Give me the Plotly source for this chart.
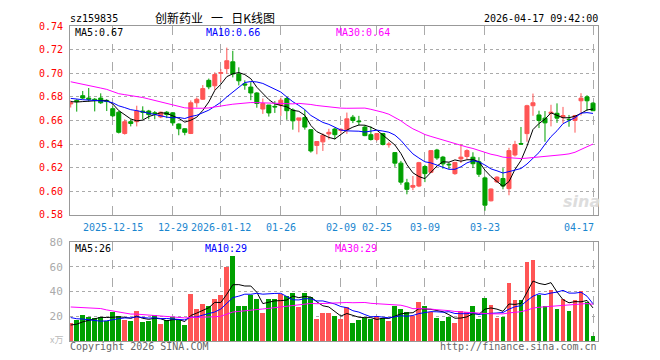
import plotly.graph_objects as go
import pandas as pd

# ---------------- data ----------------
tick_idx = [7, 17, 25, 35, 45, 51, 59, 69, 87]
tick_labels = ["2025-12-15", "12-29", "2026-01-12", "01-26", "02-09", "02-25", "03-09", "03-23", "04-17"]

open_ = [0.674, 0.677, 0.681, 0.679, 0.678, 0.679, 0.677, 0.670, 0.667, 0.649,
         0.659, 0.659, 0.668, 0.668, 0.6665, 0.663, 0.667, 0.6665, 0.657, 0.653,
         0.649, 0.675, 0.678, 0.694, 0.6894, 0.700, 0.7039, 0.7097, 0.6994, 0.691,
         0.6883, 0.6833, 0.6697, 0.6731, 0.672, 0.6731, 0.6786, 0.6689, 0.6603, 0.6625,
         0.6522, 0.6389, 0.6419, 0.6486, 0.6528, 0.6515, 0.6522, 0.6628, 0.6595, 0.6544,
         0.648, 0.6439, 0.6489, 0.6395, 0.6328, 0.6239, 0.6072, 0.6035, 0.6045, 0.621,
         0.6161, 0.635, 0.629, 0.623, 0.615, 0.6275, 0.6295, 0.6289, 0.625, 0.6114,
         0.592, 0.608, 0.6109, 0.6023, 0.6308, 0.6405, 0.6489, 0.6725, 0.6647, 0.662,
         0.666, 0.6661, 0.6628, 0.661, 0.660, 0.6767, 0.680, 0.6747]
high = [0.677, 0.678, 0.685, 0.6875, 0.679, 0.683, 0.678, 0.672, 0.668, 0.661,
        0.661, 0.6725, 0.672, 0.669, 0.668, 0.6675, 0.668, 0.667, 0.6575, 0.6535,
        0.677, 0.6795, 0.690, 0.6955, 0.7008, 0.7036, 0.7217, 0.719, 0.705, 0.694,
        0.6925, 0.684, 0.6786, 0.6731, 0.6764, 0.6794, 0.680, 0.6703, 0.6622, 0.6689,
        0.6528, 0.6422, 0.649, 0.653, 0.654, 0.6535, 0.6667, 0.6647, 0.6639, 0.656,
        0.655, 0.649, 0.6494, 0.642, 0.6333, 0.6258, 0.6106, 0.613, 0.625, 0.6225,
        0.635, 0.636, 0.630, 0.6245, 0.6248, 0.640, 0.6356, 0.6331, 0.6289, 0.6125,
        0.6025, 0.6128, 0.6197, 0.6369, 0.6428, 0.6545, 0.6733, 0.6828, 0.6683, 0.668,
        0.6733, 0.6745, 0.6715, 0.6647, 0.6647, 0.6831, 0.6814, 0.6755]
low = [0.671, 0.6675, 0.678, 0.676, 0.6677, 0.674, 0.668, 0.663, 0.649, 0.648,
       0.655, 0.655, 0.661, 0.661, 0.661, 0.662, 0.662, 0.6555, 0.6475, 0.6475,
       0.6485, 0.671, 0.6775, 0.6865, 0.6856, 0.6925, 0.6994, 0.6965, 0.6897, 0.686,
       0.6772, 0.6708, 0.6656, 0.6633, 0.6664, 0.6639, 0.6606, 0.6522, 0.650, 0.6522,
       0.6328, 0.6314, 0.6342, 0.6439, 0.644, 0.649, 0.6486, 0.6578, 0.6558, 0.6467,
       0.643, 0.6425, 0.6389, 0.637, 0.6208, 0.6056, 0.5975, 0.601, 0.6036, 0.6078,
       0.6155, 0.6267, 0.6192, 0.619, 0.614, 0.624, 0.6272, 0.6197, 0.6122, 0.5836,
       0.5915, 0.6072, 0.6017, 0.5967, 0.6295, 0.6395, 0.642, 0.664, 0.6536, 0.642,
       0.655, 0.658, 0.6575, 0.6547, 0.6497, 0.6642, 0.6683, 0.668]
close = [0.675, 0.676, 0.679, 0.678, 0.677, 0.675, 0.676, 0.664, 0.650, 0.659,
         0.6575, 0.668, 0.667, 0.665, 0.666, 0.667, 0.665, 0.658, 0.653, 0.650,
         0.675, 0.678, 0.687, 0.6885, 0.6989, 0.7005, 0.7106, 0.6994, 0.6936, 0.690,
         0.6833, 0.6744, 0.6744, 0.6664, 0.6715, 0.6772, 0.6683, 0.6597, 0.6622, 0.6544,
         0.6342, 0.6422, 0.6475, 0.650, 0.648, 0.6525, 0.6614, 0.660, 0.659, 0.6472,
         0.6439, 0.6489, 0.6397, 0.640, 0.6239, 0.6078, 0.6017, 0.605, 0.6243, 0.615,
         0.6345, 0.6283, 0.6233, 0.6225, 0.6245, 0.629, 0.6345, 0.6234, 0.6145, 0.5883,
         0.602, 0.612, 0.6045, 0.6345, 0.6397, 0.640, 0.6725, 0.675, 0.660, 0.658,
         0.667, 0.662, 0.6642, 0.6606, 0.6642, 0.6789, 0.6767, 0.6683]
volume = [14.6, 16.5, 21.3, 19.7, 18.6, 19.7, 15.7, 23.7, 20.0, 16.5,
          15.7, 24.5, 15.2, 15.7, 21.0, 13.3, 16.5, 19.7, 16.5, 12.5,
          38.1, 26.1, 30.1, 28.0, 34.1, 37.3, 59.7, 68.5, 28.5, 28.5,
          37.3, 34.1, 22.9, 34.1, 34.1, 38.1, 36.5, 38.9, 27.7, 38.9,
          35.7, 17.3, 22.9, 22.9, 20.5, 17.3, 27.7, 14.1, 16.5, 18.9,
          17.3, 20.5, 18.9, 15.7, 28.5, 26.1, 23.7, 20.5, 31.7, 28.5,
          23.7, 18.9, 15.7, 19.7, 14.1, 24.5, 23.7, 28.5, 17.3, 34.9,
          29.3, 18.9, 19.7, 46.9, 33.3, 33.3, 63.7, 65.3, 37.3, 28.5,
          41.3, 26.1, 34.1, 24.5, 33.3, 40.5, 31.7, 3.7]

# history before the first visible day (needed for the moving averages)
prior_closes = [0.705, 0.707, 0.706, 0.713, 0.714, 0.710, 0.712, 0.711, 0.684, 0.682,
                0.683, 0.700, 0.702, 0.701, 0.704, 0.705, 0.703, 0.686, 0.685, 0.684,
                0.684, 0.682, 0.681, 0.680, 0.680, 0.678, 0.677, 0.676, 0.674]
prior_volumes = [27, 28, 26, 27, 26, 49, 52, 47, 50, 27,
                 26, 28, 25, 27, 29, 28, 30, 27, 28, 29,
                 26, 24, 27, 23, 25, 13, 12, 14, 11]

price_ma_labels = ["MA5:0.67", "MA10:0.66", "MA30:0.64"]
vol_ma_labels = ["MA5:26", "MA10:29", "MA30:29"]
ma_periods = [5, 10, 30]

# ---------------- styling ----------------
RED = "#ff5555"
GREEN = "#00a000"
MA_COLORS = ["#000000", "#0000ff", "#ff00ff"]
MONO = "DejaVu Sans Mono"
OFF = 8                      # page body margin of the html page
W, H = 660 - OFF, 360 - OFF  # figure size so that it fills the window
# plot area in window pixels
X0, X1 = 70.0, 597.7
Y0, Y1 = 20.6, 340.8
ML, MR = X0 - OFF, W - (X1 - OFF)
MT, MB = Y0 - OFF, H - (Y1 - OFF)
PW, PH = X1 - X0, Y1 - Y0


def px(x):
    return (x - X0) / PW


def py(y):
    return (Y1 - y) / PH


n = len(close)
idx = list(range(n))
price_bot_dom = py(212.7)
vol_top_dom = py(240.3)

fig = go.Figure()

fig.add_trace(go.Candlestick(
    x=idx, open=open_, high=high, low=low, close=close,
    increasing=dict(line=dict(color=RED, width=1), fillcolor=RED),
    decreasing=dict(line=dict(color=GREEN, width=1), fillcolor=GREEN),
    whiskerwidth=0, xaxis="x", yaxis="y", showlegend=False, hoverinfo="skip"))

all_close = pd.Series(prior_closes + close)
all_vol = pd.Series(prior_volumes + volume)
k = len(prior_closes)
for p, col in zip(ma_periods, MA_COLORS):
    ma = all_close.rolling(p).mean().values[k:]
    fig.add_trace(go.Scatter(x=idx, y=ma, mode="lines", line=dict(color=col, width=1),
                             xaxis="x", yaxis="y", showlegend=False, hoverinfo="skip"))

bar_colors = [RED if c >= o else GREEN for o, c in zip(open_, close)]
fig.add_trace(go.Bar(x=idx, y=volume, marker=dict(color=bar_colors, line=dict(width=0)),
                     width=0.82, xaxis="x2", yaxis="y2", showlegend=False, hoverinfo="skip"))
kv = len(prior_volumes)
for p, col in zip(ma_periods, MA_COLORS):
    ma = all_vol.rolling(p).mean().values[kv:]
    fig.add_trace(go.Scatter(x=idx, y=ma, mode="lines", line=dict(color=col, width=1),
                             xaxis="x2", yaxis="y2", showlegend=False, hoverinfo="skip"))

xr = [-0.12, 87.83]
common_x = dict(range=xr, tickmode="array", tickvals=tick_idx, showticklabels=False,
                showgrid=True, gridcolor="#aaaaaa", griddash="dash", gridwidth=1,
                showline=True, mirror=True, linecolor="#999999", linewidth=1,
                zeroline=False, ticks="", fixedrange=True)

price_ticks = [0.58 + 0.02 * i for i in range(9)]
vol_ticks = [20, 40, 60, 80]

fig.update_layout(
    width=W, height=H, margin=dict(l=ML, r=MR, t=MT, b=MB, pad=0),
    paper_bgcolor="white", plot_bgcolor="white",
    boxgap=0.33, boxgroupgap=0.0,
    bargap=0,
    xaxis=dict(common_x, domain=[0, 1], anchor="y", rangeslider=dict(visible=False)),
    xaxis2=dict(common_x, domain=[0, 1], anchor="y2", matches="x"),
    yaxis=dict(domain=[price_bot_dom, 1.0], range=[0.58, 0.74],
               tickmode="array", tickvals=price_ticks,
               ticktext=["%.2f" % v for v in price_ticks],
               tickfont=dict(family=MONO, size=10, color="#ff0000"),
               showgrid=True, gridcolor="#aaaaaa", griddash="dot", gridwidth=1,
               showline=True, mirror=True, linecolor="#999999", linewidth=1,
               zeroline=False, ticks="", ticklabelstandoff=4, anchor="x"),
    yaxis2=dict(domain=[0, vol_top_dom], range=[0, 80],
                tickmode="array", tickvals=vol_ticks, ticktext=[str(v) for v in vol_ticks],
                tickfont=dict(family=MONO, size=11, color="#aaaaaa"),
                showgrid=True, gridcolor="#aaaaaa", griddash="dot", gridwidth=1,
                showline=True, mirror=True, linecolor="#999999", linewidth=1,
                zeroline=False, ticks="", ticklabelstandoff=4, anchor="x2"),
    font=dict(family=MONO, size=10, color="#000000"),
)

ann = []


def text(x, y, s, color="#000", size=10, anchor="left", family=MONO, **kw):
    ann.append(dict(x=px(x), y=py(y), xref="paper", yref="paper", text=s, showarrow=False,
                    xanchor=anchor, yanchor="middle", borderpad=0,
                    font=dict(family=family, size=size, color=color), **kw))


NB = "\u00a0"
text(69, 13, "sz159835")
text(215, 12, "创新药业" + NB * 3 + "一" + NB * 3 + "日K线图", size=12, anchor="center",
     family="Noto Sans CJK SC")
text(599, 13, "2026-04-17 09:42:00", anchor="right")

for s, x0, col in zip(price_ma_labels, [74, 205, 335], MA_COLORS):
    text(x0, 27, s, color=col)
for s, x0, col in zip(vol_ma_labels, [74, 204, 334], MA_COLORS):
    text(x0, 246.5, s, color=col)

# x tick labels, drawn at the axis positions
for i, (t, lab) in enumerate(zip(tick_idx, tick_labels)):
    last = i == len(tick_idx) - 1
    ann.append(dict(x=t, y=py(225.7), xref="x", yref="paper", text=lab, showarrow=False,
                    xanchor="right" if last else "center", yanchor="middle",
                    xshift=2 if last else 0, borderpad=0,
                    font=dict(family=MONO, size=10, color="#1a86cf")))

text(64, 339.5, "x万", color="#bbbbbb", size=9, anchor="right", family="Noto Sans CJK SC")
text(69, 346.5, "Copyright 2026 SINA.COM", color="#666666")
text(597.5, 346.5, "http://finance.sina.com.cn", color="#666666", anchor="right")
text(581, 199, "<b><i>sina</i></b>", color="#dddddd", size=16, anchor="center", family="DejaVu Sans")

fig.update_layout(annotations=ann)
fig.write_html("out.html")
